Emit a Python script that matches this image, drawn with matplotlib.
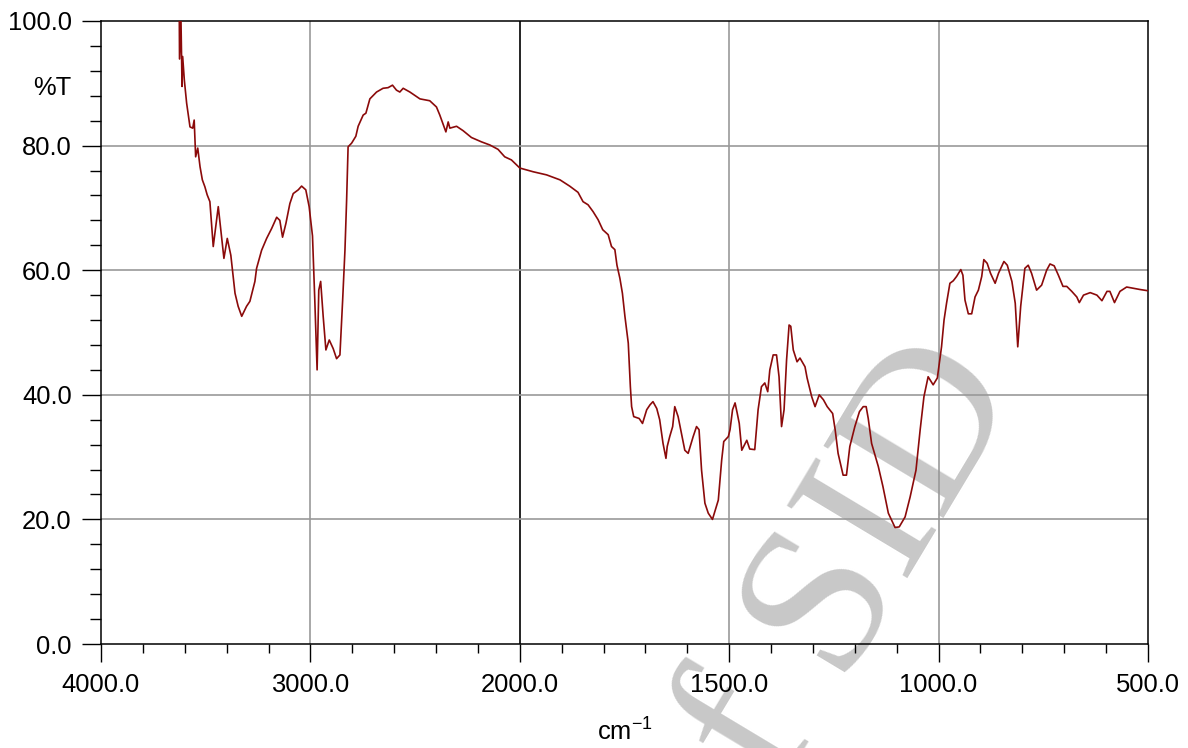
import matplotlib
matplotlib.use('Agg')
import matplotlib.pyplot as plt
from matplotlib.ticker import FixedLocator, FixedFormatter
import numpy as np

# IR spectrum (wavenumber in cm-1, %T)
wavenumber = [3640, 3626, 3625, 3618, 3613, 3610, 3602, 3591, 3575, 3562, 3555, 3548, 3538,
              3527, 3516, 3504, 3493, 3480, 3464, 3440, 3413, 3397, 3380, 3360, 3345, 3328,
              3305, 3289, 3265, 3257, 3233, 3209, 3185, 3161, 3146, 3133, 3117, 3098, 3082,
              3058, 3042, 3022, 3006, 2990, 2979, 2968, 2960, 2951, 2939, 2926, 2910, 2891,
              2875, 2859, 2846, 2835, 2827, 2820, 2803, 2783, 2772, 2748, 2735, 2716, 2684,
              2653, 2629, 2608, 2589, 2573, 2557, 2525, 2477, 2430, 2398, 2382, 2353, 2342,
              2334, 2302, 2271, 2231, 2183, 2143, 2104, 2072, 2040, 2000,
              1984, 1968, 1936, 1904, 1881, 1861, 1849, 1837, 1825, 1813, 1802, 1789, 1781,
              1773, 1768, 1761, 1755, 1749, 1741, 1736, 1733, 1728, 1715, 1707, 1697, 1689,
              1682, 1673, 1666, 1658, 1651, 1648, 1642, 1635, 1630, 1622, 1614, 1606, 1598,
              1586, 1578, 1572, 1566, 1558, 1550, 1540, 1526, 1518, 1513, 1502, 1498, 1492,
              1486, 1481, 1476, 1470, 1458, 1451, 1439, 1431, 1423, 1415, 1408, 1403, 1395,
              1387, 1381, 1375, 1369, 1363, 1357, 1353, 1347, 1338, 1331, 1319, 1314, 1303,
              1295, 1285, 1275, 1266, 1253, 1247, 1240, 1228, 1220, 1212, 1200, 1189, 1180,
              1173, 1168, 1160, 1144, 1133, 1120, 1104, 1094, 1080, 1068, 1054, 1044, 1035,
              1025, 1013, 1003, 993, 987, 981, 973, 965, 957, 947, 942, 937, 929, 921, 913,
              905, 897, 892, 884, 876, 865, 857, 844, 836, 825, 817, 811, 804, 794, 786, 778,
              766, 754, 742, 734, 724, 714, 703, 694, 682, 670, 664, 654, 638, 622, 610, 598,
              591, 580, 567, 551, 535, 519, 500]
transmittance = [105.0, 100.0, 93.9, 100.0, 89.5, 94.3, 90.5, 86.8, 83.0, 82.8, 84.1, 78.2, 79.6,
                 76.6, 74.5, 73.4, 72.1, 71.0, 63.8, 70.2, 61.9, 65.1, 62.4, 56.3, 54.2, 52.6,
                 54.2, 55.0, 58.2, 60.3, 63.2, 65.1, 66.7, 68.5, 68.0, 65.3, 67.5, 70.7, 72.3,
                 72.9, 73.5, 72.9, 70.2, 65.5, 55.2, 44.0, 56.8, 58.2, 52.6, 47.2, 48.8, 47.4,
                 45.8, 46.4, 55.2, 63.2, 71.3, 79.8, 80.4, 81.5, 83.1, 84.9, 85.2, 87.5, 88.6,
                 89.2, 89.3, 89.7, 88.9, 88.6, 89.2, 88.6, 87.5, 87.2, 86.2, 84.9, 82.2, 83.8,
                 82.8, 83.1, 82.4, 81.3, 80.6, 80.1, 79.4, 78.2, 77.7, 76.4,
                 76.1, 75.8, 75.3, 74.5, 73.5, 72.5, 71.0, 70.5, 69.4, 68.1, 66.5, 65.7, 63.8,
                 63.3, 60.8, 58.7, 56.3, 52.6, 48.3, 41.3, 38.1, 36.5, 36.2, 35.4, 37.6, 38.4,
                 38.9, 37.8, 36.0, 32.2, 29.8, 31.7, 33.3, 34.9, 38.1, 36.5, 33.8, 31.1, 30.6,
                 33.3, 34.9, 34.4, 27.9, 22.6, 21.0, 20.0, 23.1, 29.5, 32.5, 33.3, 34.4, 37.6,
                 38.7, 37.1, 35.4, 31.1, 32.7, 31.3, 31.2, 37.6, 41.3, 41.9, 40.5, 44.0, 46.4,
                 46.4, 42.9, 34.9, 37.6, 45.6, 51.2, 51.0, 47.2, 45.3, 45.9, 44.5, 42.7, 39.7,
                 38.1, 40.0, 39.2, 38.1, 37.0, 34.4, 30.6, 27.1, 27.1, 31.7, 34.9, 37.3, 38.1,
                 38.1, 36.2, 32.2, 28.5, 25.3, 21.0, 18.7, 18.8, 20.4, 23.6, 27.9, 34.4, 39.7,
                 42.9, 41.6, 42.7, 47.7, 52.0, 54.7, 57.9, 58.3, 59.0, 60.1, 59.2, 55.2, 53.0,
                 53.0, 55.7, 56.8, 59.0, 61.7, 61.1, 59.5, 57.9, 59.5, 61.4, 60.8, 58.2, 54.7,
                 47.7, 54.2, 60.3, 60.8, 59.5, 56.8, 57.6, 60.0, 61.0, 60.7, 59.2, 57.4, 57.4,
                 56.6, 55.7, 54.8, 56.0, 56.4, 56.0, 55.1, 56.6, 56.6, 54.8, 56.6, 57.3, 57.1,
                 56.9, 56.7]

x_major = [4000, 3000, 2000, 1500, 1000, 500]
x_minor = [3800, 3600, 3400, 3200, 2800, 2600, 2400, 2200,
           1900, 1800, 1700, 1600, 1400, 1300, 1200, 1100, 900, 800, 700, 600]
y_major = [0, 20, 40, 60, 80, 100]
y_minor = [4, 8, 12, 16, 24, 28, 32, 36, 44, 48, 52, 56, 64, 68, 72, 76, 84, 88, 92, 96]

plt.rcParams['font.family'] = ['Liberation Sans', 'DejaVu Sans']
plt.rcParams['mathtext.fontset'] = 'custom'
plt.rcParams['mathtext.rm'] = 'Liberation Sans'


# spectrometer style axis: 4000-2000 compressed to half the scale of 2000-500
def fwd(x):
    x = np.asarray(x, dtype=float)
    return np.where(x >= 2000, 2000 + (x - 2000) / 2.0, x)


def inv(x):
    x = np.asarray(x, dtype=float)
    return np.where(x >= 2000, 2000 + (x - 2000) * 2.0, x)


fig = plt.figure(figsize=(11.88, 7.48), dpi=100)
ax = fig.add_axes([101 / 1188, 1 - 644 / 748, 1047 / 1188, 623 / 748])
ax.patch.set_alpha(0)

ax.set_xscale('function', functions=(fwd, inv))
ax.plot(wavenumber, transmittance, color='#8b0a0a', lw=1.2, zorder=3)
ax.set_xlim(4000, 500)
ax.set_ylim(0, 100)

for v in [3000, 1500, 1000]:
    ax.axvline(v, color='#999999', lw=1.2, zorder=1)
ax.axvline(2000, color='black', lw=1.2, zorder=1)
for v in [20, 40, 60, 80]:
    ax.axhline(v, color='#999999', lw=1.2, zorder=1)

ax.xaxis.set_major_locator(FixedLocator(x_major))
ax.xaxis.set_major_formatter(FixedFormatter(['%.1f' % v for v in x_major]))
ax.xaxis.set_minor_locator(FixedLocator(x_minor))
ax.yaxis.set_major_locator(FixedLocator(y_major))
ax.yaxis.set_major_formatter(FixedFormatter(['%.1f' % v for v in y_major]))
ax.yaxis.set_minor_locator(FixedLocator(y_minor))

ax.tick_params(axis='x', which='major', length=13, width=1, pad=8, labelsize=18.4)
ax.tick_params(axis='x', which='minor', length=6.5, width=1)
ax.tick_params(axis='y', which='major', length=14, width=1, pad=7, labelsize=18.4)
ax.tick_params(axis='y', which='minor', length=8, width=1)
for s in ax.spines.values():
    s.set_linewidth(1.1)

fig.text(52 / 1188, 1 - 88 / 748, '%T', ha='center', va='center', fontsize=18.4)
fig.text(625 / 1188, 3 / 748, r'$\mathrm{cm}^{-1}$', ha='center', va='bottom', fontsize=18.4)

# watermark (runs off the bottom edge in the reference too)
fig.text(828 / 1188, 1 - 612 / 748, 'of SID', family='Liberation Serif', color='#c8c8c8',
         fontsize=155, rotation=59, ha='center', va='center', rotation_mode='anchor', zorder=-1)

fig.savefig('out.png', dpi=100)
